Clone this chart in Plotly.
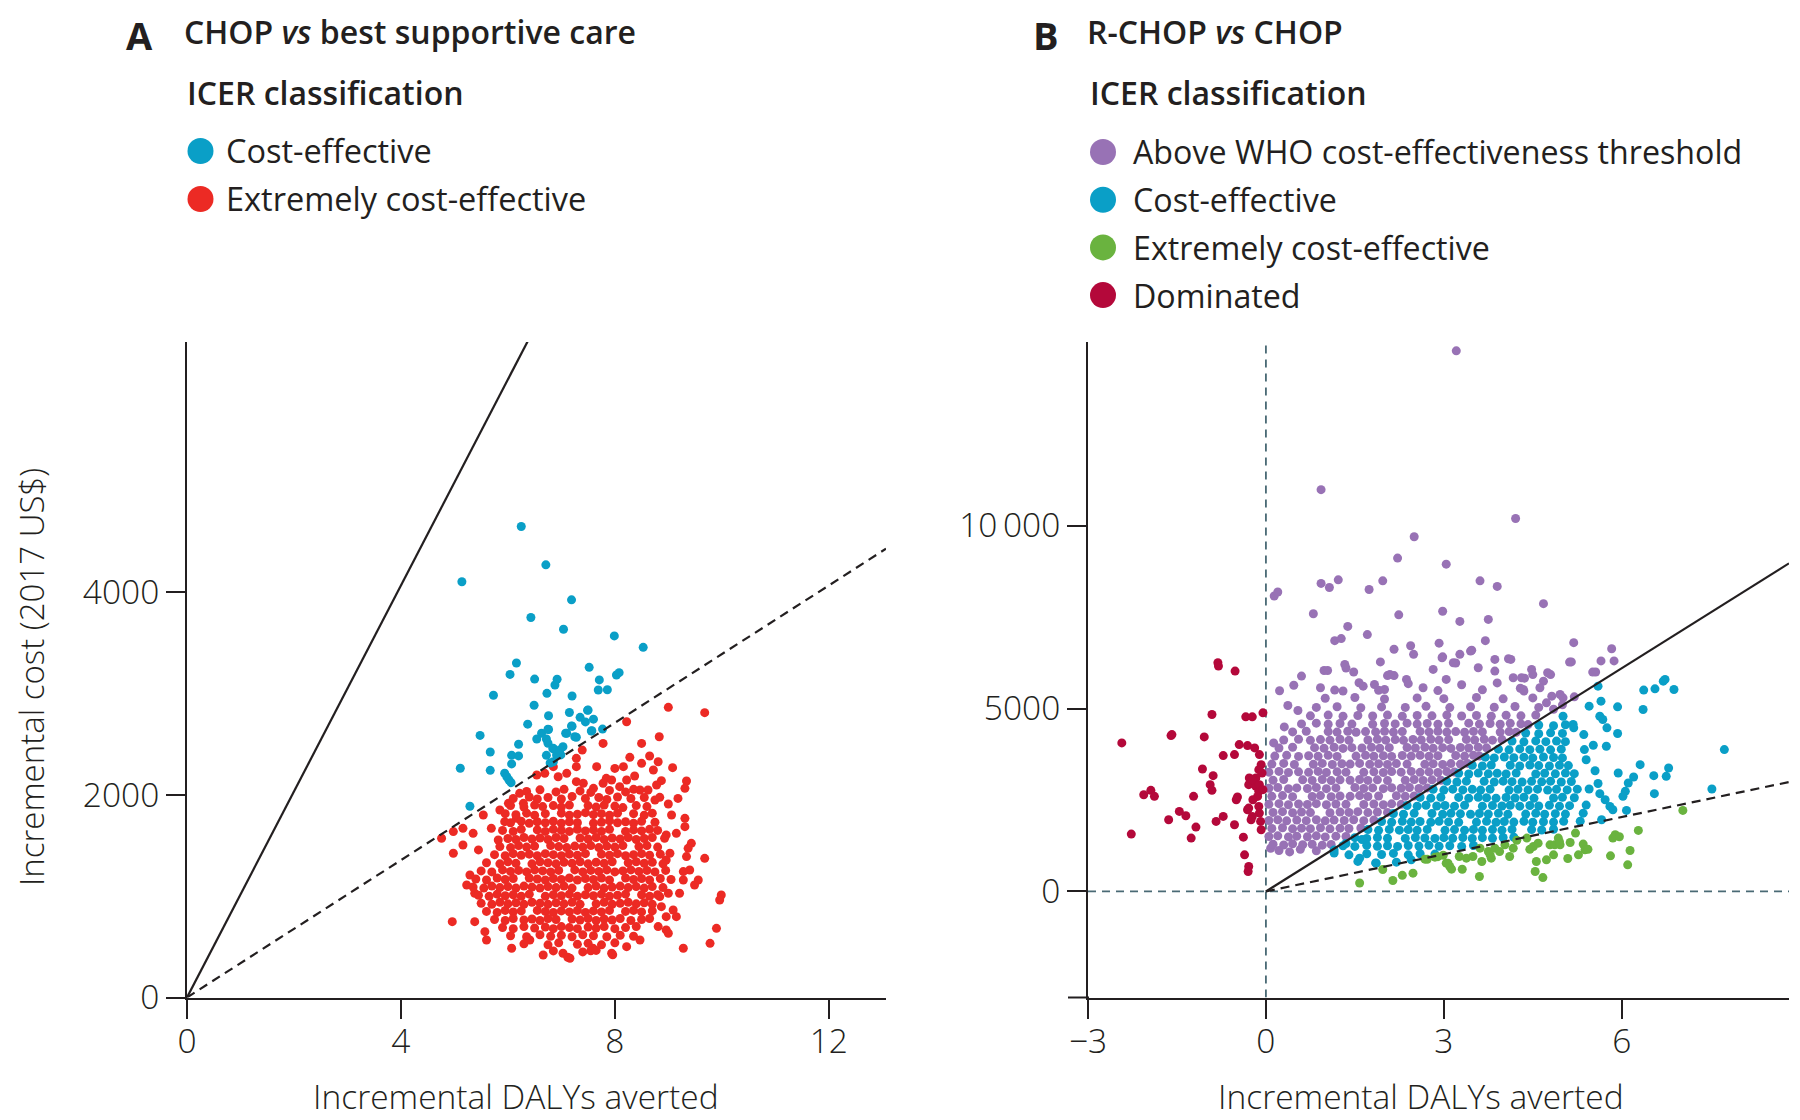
import plotly.graph_objects as go

# ---------------- data ----------------
gdp_per_capita = 339                 # slope of dashed line (1x GDP per capita)
who_threshold = 3 * gdp_per_capita   # slope of solid line (3x GDP per capita)

a_blue = [(6.25,4650),(5.14,4105),(6.71,4272),(7.19,3926),(6.43,3752),(7.04,3636),(7.99,3570),(8.53,3457),
          (6.16,3303),(6.04,3190),(6.50,3144),(6.92,3142),(6.88,3085),(7.52,3260),(7.71,3136),(7.69,3036),
          (7.86,3038),(8.03,3184),(8.08,3207),(5.73,2984),(6.73,3003),(7.20,2977),(6.49,2886),(6.76,2782),
          (7.15,2814),(7.49,2836),(7.35,2766),(7.45,2721),(7.60,2748),(6.37,2699),(6.76,2646),(7.20,2678),
          (7.57,2634),(5.48,2588),(6.63,2609),(6.54,2552),(6.72,2552),(6.75,2510),(7.08,2609),(7.28,2570),
          (7.77,2650),(6.20,2500),(6.84,2457),(7.03,2476),(6.94,2427),(6.99,2395),(6.91,2394),(5.67,2424),
          (6.07,2391),(6.20,2385),(6.72,2391),(6.07,2306),(6.79,2315),(5.11,2263),(5.67,2243),(5.94,2214),
          (5.98,2180),(6.02,2148),(6.06,2121),(5.29,1888),(6.75,2648),(6.85,2460),(6.97,2444),(6.85,2328),
          (7.19,2681),(7.10,2609),(7.25,2575),(7.50,2838),(7.56,2631)]

a_red_outer = [(9.0,2865),(9.68,2812),(8.22,2723),(8.83,2575),(8.5,2509),(7.78,2509),(7.39,2443),(7.28,2361),
               (7.28,2279),(7.66,2279),(8.28,2371),(8.65,2384),(8.81,2328),(8.72,2246),(9.08,2269),(8.5,2312),
               (8.16,2279),(8.0,2262),(7.84,2164),(8.37,2187),(8.87,2141),(9.34,2138),(9.31,2065),(9.18,1966),
               (8.84,1976),(8.75,1950),(9.0,1911),(9.06,1802),(9.31,1769),(9.31,1687),(9.15,1621),(8.96,1605),
               (8.93,1572),(9.43,1522),(9.37,1473),(9.03,1424),(8.96,1358),(9.34,1391),(9.68,1374),(9.4,1259),
               (9.28,1243),(9.56,1160),(9.49,1111),(9.28,1160),(9.21,1029),(9.0,1029),(8.84,996),(8.87,897),
               (9.09,864),(9.15,798),(8.96,798),(8.81,700),(8.96,667),(9.0,634),(9.99,1012),(9.96,963),
               (9.9,683),(9.78,535),(9.28,486),(8.47,568),(8.22,502),(7.94,437),(7.59,486),(7.16,387),
               (7.03,437),(6.66,420),(6.41,568),(6.07,486),(5.6,568),(5.57,650),(5.38,749),(4.96,749),
               (5.38,1029),(5.23,1111),(5.29,1210),(5.45,1457),(4.98,1424),(5.16,1506),(4.76,1572),(4.98,1638),
               (5.16,1670),(5.35,1621),(5.54,1802),(5.69,1670),(5.82,1555),(5.85,1851),(6.01,1917),(6.22,2016),
               (6.29,1917),(6.16,1769),(5.94,1736),(6.54,2197),(6.69,2213),(6.85,2279),(6.94,2180),(7.1,2213),
               (7.28,2131),(7.41,2115),(7.6,2065),(7.78,2115),(7.94,2147),(8.09,2082),(8.22,2147),(8.47,2049),
               (8.62,2049),(8.78,2098),(7.12,397),(7.96,422),(7.55,462)]

a_red_core = [
    (6.35,2035),(6.6,2050),(6.9,2030),(7.05,2055),(7.35,2040),(7.55,2025),(7.9,2045),(8.2,2030),(8.35,2055),
    (6.1,1965),(6.4,1980),(6.55,1960),(6.75,1975),(7.0,1960),(7.2,1985),(7.45,1965),(7.7,1975),(7.85,1955),(8.05,1980),(8.3,1965),(8.55,1975),
    (6.05,1895),(6.3,1880),(6.5,1900),(6.65,1885),(6.85,1895),(7.0,1880),(7.15,1900),(7.5,1895),(7.65,1880),(7.8,1900),(8.0,1890),(8.15,1875),(8.4,1895),(8.6,1885),
    (5.95,1815),(6.15,1805),(6.35,1820),(6.5,1800),(6.7,1815),(7.0,1820),(7.15,1800),(7.3,1810),(7.45,1825),(7.6,1805),(7.75,1815),(7.9,1800),(8.05,1820),(8.35,1815),(8.55,1800),(8.7,1820),
    (6.05,1725),(6.25,1740),(6.4,1720),(6.55,1735),(6.7,1725),(6.85,1740),(7.0,1720),(7.15,1735),(7.3,1725),(7.6,1720),(7.75,1730),(7.9,1745),(8.05,1725),(8.2,1735),(8.35,1720),(8.5,1740),(8.75,1730),
    (5.9,1650),(6.1,1640),(6.25,1660),(6.55,1655),(6.7,1640),(6.85,1660),(7.0,1650),(7.15,1640),(7.3,1660),(7.45,1645),(7.6,1655),(7.75,1640),(7.9,1660),(8.2,1640),(8.35,1655),(8.5,1645),(8.65,1660),(8.8,1650),
    (6.0,1570),(6.15,1560),(6.3,1580),(6.45,1565),(6.6,1575),(6.75,1560),(6.9,1580),(7.05,1570),(7.35,1575),(7.5,1565),(7.65,1580),(7.8,1560),(7.95,1575),(8.1,1565),(8.25,1580),(8.4,1560),(8.55,1570),(8.7,1580),
    (5.85,1490),(6.05,1480),(6.2,1500),(6.35,1485),(6.5,1495),(6.8,1500),(6.95,1490),(7.1,1480),(7.25,1495),(7.4,1485),(7.55,1500),(7.7,1480),(7.85,1495),(8.0,1485),(8.15,1500),(8.45,1490),(8.6,1500),(8.8,1485),
    (5.75,1410),(5.95,1400),(6.1,1420),(6.25,1405),(6.4,1415),(6.55,1400),(6.7,1420),(6.85,1410),(7.0,1400),(7.15,1415),(7.3,1405),(7.45,1420),(7.75,1415),(7.9,1405),(8.05,1420),(8.2,1400),(8.35,1410),(8.5,1420),(8.65,1405),(8.85,1415),
    (5.6,1330),(5.85,1320),(6.0,1340),(6.15,1325),(6.45,1320),(6.6,1340),(6.75,1330),(6.9,1320),(7.05,1335),(7.2,1325),(7.35,1340),(7.5,1320),(7.65,1335),(7.8,1325),(7.95,1340),(8.25,1330),(8.4,1340),(8.55,1325),(8.7,1335),(8.9,1320),
    (5.5,1250),(5.7,1240),(5.9,1260),(6.05,1245),(6.2,1255),(6.35,1240),(6.5,1260),(6.65,1250),(6.8,1240),(6.95,1255),(7.25,1260),(7.4,1240),(7.55,1255),(7.7,1245),(7.85,1260),(8.0,1240),(8.15,1250),(8.3,1260),(8.45,1245),(8.6,1255),(8.75,1240),(8.95,1255),
    (5.4,1170),(5.6,1160),(5.8,1180),(5.95,1165),(6.1,1175),(6.4,1180),(6.55,1170),(6.7,1160),(6.85,1175),(7.0,1165),(7.15,1180),(7.3,1160),(7.45,1175),(7.6,1165),(7.75,1180),(7.9,1160),(8.2,1180),(8.35,1165),(8.5,1175),(8.65,1160),(8.85,1175),(9.05,1165),
    (5.35,1090),(5.55,1080),(5.7,1100),(5.85,1085),(6.0,1095),(6.15,1080),(6.3,1100),(6.45,1090),(6.6,1080),(6.75,1095),(6.9,1085),(7.05,1100),(7.2,1080),(7.5,1085),(7.65,1100),(7.8,1080),(7.95,1090),(8.1,1100),(8.25,1085),(8.4,1095),(8.55,1080),(8.7,1095),(8.9,1085),
    (5.45,1010),(5.65,1000),(5.8,1020),(5.95,1005),(6.1,1015),(6.25,1000),(6.4,1020),(6.7,1000),(6.85,1015),(7.0,1005),(7.15,1020),(7.3,1000),(7.45,1015),(7.6,1005),(7.75,1020),(7.9,1000),(8.05,1010),(8.2,1020),(8.5,1015),(8.65,1000),(8.8,1015),
    (5.5,930),(5.7,920),(5.85,940),(6.0,925),(6.15,935),(6.3,920),(6.45,940),(6.6,930),(6.75,920),(6.9,935),(7.05,925),(7.2,940),(7.35,920),(7.65,925),(7.8,940),(7.95,920),(8.1,930),(8.25,940),(8.4,925),(8.55,935),(8.7,920),
    (5.6,850),(5.8,840),(5.95,860),(6.1,845),(6.25,855),(6.55,860),(6.7,850),(6.85,840),(7.0,855),(7.15,845),(7.3,860),(7.45,840),(7.6,855),(7.75,845),(7.9,860),(8.2,850),(8.35,860),(8.5,845),(8.7,855),
    (5.75,770),(5.95,760),(6.1,780),(6.3,765),(6.45,775),(6.6,760),(6.75,780),(6.9,770),(7.2,775),(7.35,765),(7.5,780),(7.65,760),(7.8,775),(7.95,765),(8.1,780),(8.3,760),(8.5,770),(8.65,780),
    (5.9,690),(6.1,680),(6.3,700),(6.5,685),(6.7,695),(6.85,680),(7.0,700),(7.15,690),(7.3,680),(7.5,695),(7.65,685),(7.8,700),(8.0,680),(8.2,690),(8.4,700),
    (6.05,610),(6.35,600),(6.6,620),(6.8,605),(7.0,615),(7.2,600),(7.4,620),(7.6,610),(7.85,600),(8.1,615),(8.35,605),
    (6.3,530),(6.75,520),(6.95,540),(7.3,525),(7.5,535),(7.75,520),(8.0,540),
    (6.85,460),(7.4,450),(7.65,465)]

b_dominated = [(-0.81,6252),(-0.80,6160),(-0.52,6023),(-0.91,4836),(-0.34,4772),(-0.23,4772),(-0.05,4882),(-2.43,4060),
               (-1.60,4261),(-1.585,4288),(-1.04,4224),(-0.45,4014),(-0.31,3987),(-0.19,3923),(-0.11,3740),(-0.72,3713),
               (-0.53,3740),(-1.07,3348),(-0.89,3165),(-0.94,2918),(-0.91,2763),(-0.28,3101),(-0.29,2918),(-0.17,2873),
               (-0.12,2736),(-2.06,2644),(-1.94,2763),(-1.88,2599),(-1.22,2599),(-0.48,2580),(-0.50,2507),(-1.46,2187),
               (-1.35,2069),(-0.31,2233),(-0.12,2324),(-0.11,2142),(-1.64,1959),(-0.84,1914),(-0.72,2050),(-0.23,2050),
               (-0.25,1959),(-1.18,1758),(-0.53,1822),(-0.09,1914),(-0.08,1685),(-2.27,1567),(-1.26,1457),(-0.38,1484),
               (-0.36,1000),(-0.29,681),(-0.30,544),(-0.08,3466),(-0.12,3329),(-0.065,3238),(-0.17,3101),(-0.23,3055),
               (-0.11,2918),(-0.05,2781),(-0.14,2598),(-0.22,2507),(-0.29,2279)]

b_above_outer = [(3.21,14778),(0.93,10983),(4.21,10194),(2.5,9695),(2.22,9113),(3.04,8947),(0.14,8075),(0.2,8185),
                 (0.93,8421),(1.07,8310),(1.22,8518),(1.74,8255),(1.97,8490),(3.61,8490),(3.9,8338),(4.68,7867),
                 (0.8,7590),(2.24,7562),(2.98,7659),(3.27,7382),(3.75,7437),(1.38,7244),(1.71,7022),(1.16,6856),
                 (1.27,6911),(2.92,6787),(3.7,6856),(2.16,6620),(2.44,6717),(2.98,6413),(3.27,6482),(3.47,6593),
                 (5.19,6800),(5.83,6634),(2.49,6482),(3.86,6343),(4.13,6343),(1.93,6274),(3.2,6246),(5.15,6274),
                 (5.65,6302),(5.87,6302),(1.35,6108),(1.48,5997),(0.98,6039),(1.04,6039),(2.05,5900),(2.16,5900),
                 (0.6,5886),(0.47,5637),(0.23,5485),(4.8,5928),(4.5,5928),(5.56,5997),(4.29,5554),(4.36,5831),
                 (3.45,6571),(2.97,6389),(3.16,6252),(4.09,6361),(5.12,6270),(3.58,6115),(3.86,6023),(4.48,6069),
                 (4.75,5978),(5.51,5996),(2.82,6069),(1.33,6206),(2.09,5932),(2.37,5795),(3.04,5795),(0.92,5567),
                 (1.16,5503),(1.57,5704),(1.64,5612),(1.83,5658),(2.65,5567),(0.37,5083),(0.54,4946),(0.31,4498),
                 (0.13,4060),(4.68,5749),(4.62,5567),(4.82,5338),(4.96,5384),(5.01,5293),(4.73,5156),(4.17,5841),
                 (4.31,5841),(4.34,5521),(2.4,5680),(3.3,5650),(3.9,5700),(1.9,5500),
                 (0.22,1120),(0.4,1080),(0.58,1150),(0.85,1110),(0.08,1180)]

b_above_core = [
    (0.12,1290),(0.3,1270),(0.45,1300),(0.62,1275),(0.78,1290),(0.95,1265),(1.1,1285),
    (0.05,1500),(0.2,1520),(0.38,1490),(0.52,1510),(0.7,1495),(0.85,1520),(1.0,1490),(1.18,1510),(1.35,1500),
    (0.1,1720),(0.28,1740),(0.45,1710),(0.6,1730),(0.75,1715),(0.92,1740),(1.08,1710),(1.25,1730),(1.4,1720),(1.6,1735),
    (0.05,1940),(0.2,1960),(0.35,1930),(0.52,1950),(0.68,1935),(0.85,1960),(1.0,1930),(1.15,1950),(1.32,1940),(1.48,1960),(1.65,1935),(1.82,1950),
    (0.12,2160),(0.28,2180),(0.45,2150),(0.6,2170),(0.75,2155),(1.08,2150),(1.25,2170),(1.4,2160),(1.55,2180),(1.72,2155),(1.88,2170),(2.05,2160),
    (0.05,2380),(0.22,2400),(0.38,2370),(0.55,2390),(0.7,2375),(0.85,2400),(1.02,2370),(1.18,2390),(1.35,2380),(1.65,2375),(1.82,2390),(1.98,2370),(2.12,2395),(2.28,2380),
    (0.1,2600),(0.28,2620),(0.45,2590),(0.78,2595),(0.92,2620),(1.1,2590),(1.25,2610),(1.42,2600),(1.58,2620),(1.72,2595),(1.9,2610),(2.2,2615),(2.35,2600),(2.5,2610),
    (0.05,2820),(0.2,2840),(0.38,2810),(0.52,2830),(0.7,2815),(0.85,2840),(1.02,2810),(1.18,2830),(1.5,2840),(1.65,2815),(1.8,2830),(1.98,2810),(2.12,2835),(2.28,2820),(2.42,2840),(2.58,2815),(2.72,2830),
    (0.12,3040),(0.3,3060),(0.62,3050),(0.78,3035),(0.95,3060),(1.1,3030),(1.25,3050),(1.42,3040),(1.58,3060),(1.72,3035),(1.88,3050),(2.05,3030),(2.35,3040),(2.5,3060),(2.65,3035),(2.8,3050),(2.95,3040),
    (0.05,3260),(0.22,3280),(0.38,3250),(0.55,3270),(0.72,3255),(0.88,3280),(1.02,3250),(1.2,3270),(1.35,3260),(1.65,3255),(1.82,3270),(1.98,3250),(2.12,3275),(2.28,3260),(2.45,3280),(2.6,3255),(2.75,3270),(2.9,3250),(3.05,3275),(3.18,3265),
    (0.1,3480),(0.3,3500),(0.48,3470),(0.8,3475),(0.95,3500),(1.12,3470),(1.28,3490),(1.42,3480),(1.58,3500),(1.75,3475),(1.9,3490),(2.05,3470),(2.2,3495),(2.38,3480),(2.68,3475),(2.82,3490),(2.98,3470),(3.12,3495),(3.28,3480),(3.4,3500),
    (0.15,3700),(0.35,3720),(0.55,3690),(0.72,3710),(0.88,3695),(1.05,3720),(1.2,3690),(1.52,3700),(1.68,3720),(1.82,3695),(1.98,3710),(2.12,3690),(2.3,3715),(2.45,3700),(2.6,3720),(2.75,3695),(2.9,3710),(3.2,3715),(3.35,3700),(3.5,3720),(3.6,3700),
    (0.22,3920),(0.45,3940),(0.82,3930),(0.98,3915),(1.15,3940),(1.3,3910),(1.45,3930),(1.62,3920),(1.78,3940),(1.92,3915),(2.08,3930),(2.38,3935),(2.52,3920),(2.68,3940),(2.82,3915),(2.98,3930),(3.12,3910),(3.28,3935),(3.42,3920),(3.58,3940),(3.72,3925),
    (0.3,4140),(0.55,4160),(0.75,4130),(0.92,4150),(1.08,4135),(1.25,4160),(1.4,4130),(1.72,4140),(1.88,4160),(2.02,4135),(2.18,4150),(2.32,4130),(2.48,4155),(2.62,4140),(2.78,4160),(2.92,4135),(3.08,4150),(3.38,4155),(3.52,4140),(3.68,4160),(3.82,4135),(3.98,4150),
    (0.45,4360),(0.68,4380),(1.05,4370),(1.2,4355),(1.38,4380),(1.52,4350),(1.68,4370),(1.85,4360),(2.0,4380),(2.15,4355),(2.3,4370),(2.6,4375),(2.75,4360),(2.9,4380),(3.05,4355),(3.2,4370),(3.35,4350),(3.5,4375),(3.65,4360),(3.95,4355),(4.1,4370),(4.22,4350),
    (0.6,4580),(0.85,4600),(1.05,4570),(1.25,4590),(1.45,4575),(1.8,4570),(2.0,4590),(2.18,4580),(2.38,4600),(2.55,4575),(2.72,4590),(2.9,4570),(3.08,4595),(3.42,4600),(3.6,4575),(3.78,4590),(3.95,4570),(4.12,4595),(4.3,4580),(4.42,4560),
    (0.75,4800),(1.05,4820),(1.3,4790),(1.55,4810),(1.8,4795),(2.05,4820),(2.3,4790),(2.55,4810),(2.8,4800),(3.05,4820),(3.3,4795),(3.55,4810),(3.8,4790),(4.05,4815),(4.3,4800),(4.55,4820),
    (0.85,5030),(1.2,5050),(1.6,5020),(1.95,5045),(2.35,5030),(2.7,5060),(3.1,5025),(3.45,5050),(3.85,5035),(4.2,5055),(4.6,5030),(4.85,4980),
    (1.0,5280),(1.5,5300),(2.0,5260),(2.55,5290),(3.0,5270),(3.55,5300),(4.0,5265),(4.5,5290),(5.0,5100),
    (1.3,5480),(2.0,5520),(2.9,5490),(3.65,5510),(4.35,5480),(5.2,5320)]

b_ce_core = [
    (1.55,820),(1.85,780),(2.2,800),
    (1.15,1050),(1.4,1000),(1.7,1030),(1.95,1010),(2.15,1040),(2.4,1000),(2.6,1030),(2.85,1020),
    (1.3,1250),(1.5,1230),(1.7,1260),(1.88,1235),(2.05,1250),(2.22,1230),(2.4,1255),(2.58,1240),(2.75,1260),(2.92,1235),(3.1,1250),(3.3,1230),(3.5,1255),
    (1.5,1470),(1.7,1450),(1.88,1475),(2.05,1455),(2.35,1450),(2.52,1475),(2.68,1460),(2.85,1450),(3.0,1470),(3.15,1455),(3.32,1475),(3.48,1450),(3.65,1470),(3.82,1455),(4.0,1475),(4.18,1480),
    (1.72,1690),(1.9,1670),(2.08,1695),(2.25,1675),(2.4,1690),(2.55,1670),(2.72,1695),(3.02,1670),(3.18,1690),(3.35,1675),(3.5,1695),(3.65,1670),(3.82,1690),(3.98,1675),(4.15,1695),(4.48,1690),(4.65,1680),(4.85,1700),
    (1.95,1910),(2.12,1890),(2.3,1915),(2.45,1895),(2.6,1910),(2.78,1890),(2.92,1915),(3.08,1900),(3.25,1890),(3.55,1895),(3.72,1915),(3.88,1890),(4.02,1910),(4.18,1895),(4.35,1915),(4.5,1890),(4.68,1905),(4.85,1895),(5.02,1915),(5.3,1920),
    (2.15,2130),(2.32,2110),(2.5,2135),(2.8,2130),(2.98,2110),(3.12,2135),(3.28,2120),(3.45,2110),(3.6,2130),(3.75,2115),(3.92,2135),(4.08,2110),(4.38,2115),(4.55,2135),(4.7,2110),(4.88,2125),(5.05,2115),(5.35,2140),
    (2.38,2350),(2.55,2330),(2.7,2355),(2.88,2335),(3.02,2350),(3.18,2330),(3.35,2355),(3.65,2330),(3.82,2350),(3.98,2335),(4.12,2355),(4.28,2330),(4.45,2350),(4.6,2335),(4.78,2355),(4.95,2330),(5.12,2345),(5.4,2360),
    (2.6,2570),(2.78,2550),(2.95,2575),(3.25,2570),(3.42,2550),(3.58,2575),(3.72,2560),(3.88,2550),(4.05,2570),(4.2,2555),(4.35,2575),(4.52,2550),(4.85,2555),(5.0,2575),(5.2,2560),
    (2.82,2790),(3.0,2770),(3.15,2795),(3.32,2775),(3.48,2790),(3.62,2770),(3.78,2795),(4.1,2770),(4.25,2790),(4.42,2775),(4.58,2795),(4.75,2770),(4.9,2790),(5.08,2775),(5.25,2795),
    (3.05,3010),(3.22,2990),(3.38,3015),(3.68,3010),(3.85,2990),(4.0,3015),(4.15,3000),(4.32,2990),(4.48,3010),(4.65,2995),(4.8,3015),(4.98,2990),(5.15,3005),
    (3.25,3230),(3.42,3210),(3.58,3235),(3.75,3215),(3.9,3230),(4.05,3210),(4.22,3235),(4.55,3210),(4.7,3230),(4.88,3215),(5.05,3235),(5.2,3220),
    (3.48,3450),(3.65,3430),(3.8,3455),(4.12,3450),(4.28,3430),(4.45,3455),(4.6,3440),(4.78,3430),(4.95,3450),(5.1,3440),
    (3.7,3670),(3.85,3650),(4.02,3675),(4.18,3655),(4.35,3670),(4.5,3650),(4.68,3675),(4.85,3660),(5.0,3650),
    (3.92,3890),(4.1,3870),(4.28,3895),(4.45,3875),(4.62,3890),(4.8,3870),(4.98,3890),
    (4.15,4110),(4.35,4090),(4.55,4115),(4.72,4095),(4.9,4110),(5.05,4095),
    (4.38,4330),(4.6,4310),(4.8,4335),(5.0,4320),
    (4.6,4550),(4.85,4530),(5.05,4555)]

b_ce_outer = [(6.70,5749),(6.73,5795),(6.56,5539),(6.37,5503),(6.88,5521),(6.36,4973),(7.73,3877),(5.93,5046),
              (5.65,5201),(5.60,5612),(5.45,5065),(5.01,4790),(5.18,4562),(5.19,4471),(5.36,4288),(5.63,4790),
              (5.68,4699),(5.75,4471),(5.93,4316),(5.52,3996),(5.37,3877),(5.74,3968),(5.94,3238),(6.31,3466),
              (6.20,3128),(6.54,3165),(6.79,3375),(6.75,3147),(6.11,2964),(6.06,2736),(6.02,2599),(6.55,2672),
              (7.52,2800),(6.08,2215),(5.85,2233),(5.63,2672),(5.72,2507),(5.80,2324),(5.66,1959),(1.58,909),
              (1.86,772),(2.45,863),(1.15,1130),(1.35,1310),(1.62,1420),(5.4,3600),(5.55,3300),(5.6,2950),(5.45,2800)]

b_extreme = [(1.58,230),(2.14,300),(2.3,440),(2.48,500),(1.97,600),(2.72,880),(2.85,936),(2.9,950),(2.99,990),
             (3.04,772),(3.1,681),(3.13,608),(3.26,955),(3.31,607),(3.6,407),(3.38,909),(3.49,955),(3.61,1183),
             (3.64,818),(3.75,1092),(3.8,909),(3.78,1000),(3.86,1183),(3.94,1092),(4.03,1274),(4.11,955),(4.17,1183),
             (4.23,1400),(4.4,1457),(4.51,1229),(4.59,1320),(4.56,818),(4.54,544),(4.67,379),(4.73,863),(4.79,1274),
             (4.85,1000),(4.87,1274),(4.93,1457),(4.96,1274),(5.13,1338),(5.22,1594),(5.27,1000),(5.35,1293),
             (5.38,1137),(5.81,973),(5.85,1457),(5.89,1548),(6.1,726),(6.14,1119),(6.28,1667),(7.03,2215),
             (2.68,881),(3.07,772),(4.45,1150),(4.95,1360),(5.09,900),(5.43,1150),(5.96,1496)]

a_xticks = [0, 4, 8, 12]
a_yticks = [0, 2000, 4000]
b_xticks = [-3, 0, 3, 6]
b_xticktext = ["\u22123", "0", "3", "6"]
b_yticks = [0, 5000, 10000]
b_yticktext = ["0", "5000", "10\u2009000"]

# ---------------- style ----------------
OFF = 8                      # page body margin of the html page
W, H = 1800 - OFF, 1120 - OFF
FONT = "Open Sans"
INK = "#231f20"
C_BLUE = "#0a9fc7"
C_RED = "#ec2a24"
C_PURPLE = "#9872b5"
C_GREEN = "#6ab33f"
C_CRIMSON = "#b4083a"
C_SLATE = "#4a6a75"
MS = 9

def px(x):
    return (x - OFF) / W

def py(y):
    return 1 - (y - OFF) / H

a_xrange = [0, 13.07]
a_yrange = [0, 6472]
b_xrange = [-3, 8.82]
b_yrange = [-2900, 15020]

def xs(pts):
    return [p[0] for p in pts]

def ys(pts):
    return [p[1] for p in pts]

fig = go.Figure()

# Panel A points
a_red = a_red_outer + a_red_core
fig.add_trace(go.Scatter(x=xs(a_red), y=ys(a_red), mode="markers", xaxis="x", yaxis="y",
                         marker=dict(size=MS, color=C_RED, line=dict(width=0)), showlegend=False))
fig.add_trace(go.Scatter(x=xs(a_blue), y=ys(a_blue), mode="markers", xaxis="x", yaxis="y",
                         marker=dict(size=MS, color=C_BLUE, line=dict(width=0)), showlegend=False))
# Panel A threshold lines
fig.add_trace(go.Scatter(x=[0, a_xrange[1]], y=[0, who_threshold * a_xrange[1]], mode="lines",
                         xaxis="x", yaxis="y", line=dict(color=INK, width=2.2), showlegend=False))
fig.add_trace(go.Scatter(x=[0, a_xrange[1]], y=[0, gdp_per_capita * a_xrange[1]], mode="lines",
                         xaxis="x", yaxis="y", line=dict(color=INK, width=2.2, dash="9px,6px"), showlegend=False))

# Panel B reference (zero) lines
fig.add_trace(go.Scatter(x=[0, 0], y=b_yrange, mode="lines", xaxis="x2", yaxis="y2",
                         line=dict(color=C_SLATE, width=1.8, dash="8px,6px"), showlegend=False))
fig.add_trace(go.Scatter(x=b_xrange, y=[0, 0], mode="lines", xaxis="x2", yaxis="y2",
                         line=dict(color=C_SLATE, width=1.8, dash="8px,6px"), showlegend=False))
# Panel B points
b_above = b_above_outer + b_above_core
b_ce = b_ce_core + b_ce_outer
for pts, col in [(b_above, C_PURPLE), (b_ce, C_BLUE), (b_extreme, C_GREEN), (b_dominated, C_CRIMSON)]:
    fig.add_trace(go.Scatter(x=xs(pts), y=ys(pts), mode="markers", xaxis="x2", yaxis="y2",
                             marker=dict(size=MS, color=col, line=dict(width=0)), showlegend=False))
# Panel B threshold lines
fig.add_trace(go.Scatter(x=[0, b_xrange[1]], y=[0, who_threshold * b_xrange[1]], mode="lines",
                         xaxis="x2", yaxis="y2", line=dict(color=INK, width=2.2), showlegend=False))
fig.add_trace(go.Scatter(x=[0, b_xrange[1]], y=[0, gdp_per_capita * b_xrange[1]], mode="lines",
                         xaxis="x2", yaxis="y2", line=dict(color=INK, width=2.2, dash="9px,6px"), showlegend=False))

axis_common = dict(showgrid=False, zeroline=False, showline=True, linecolor=INK, linewidth=2,
                   ticks="outside", ticklen=19, tickwidth=2, tickcolor=INK, automargin=False,
                   tickfont=dict(family=FONT, size=33.5, color=INK, weight=300))

X_TOP = 342
X_BOT = 997.5
fig.update_layout(
    width=W, height=H, margin=dict(l=0, r=0, t=0, b=0, pad=0, autoexpand=False),
    paper_bgcolor="white", plot_bgcolor="white", showlegend=False,
    font=dict(family=FONT, color=INK),
    xaxis=dict(domain=[px(187), px(886)], range=a_xrange, tickvals=a_xticks, anchor="y",
               ticklabelstandoff=-6, **axis_common),
    yaxis=dict(domain=[py(X_BOT), py(X_TOP)], range=a_yrange, tickvals=a_yticks, anchor="x",
               ticklabelstandoff=0, **axis_common),
    xaxis2=dict(domain=[px(1088), px(1789)], range=b_xrange, tickvals=b_xticks, ticktext=b_xticktext,
                anchor="y2", ticklabelstandoff=-6, **axis_common),
    yaxis2=dict(domain=[py(X_BOT), py(X_TOP)], range=b_yrange, tickvals=b_yticks, ticktext=b_yticktext,
                anchor="x2", ticklabelstandoff=0, **axis_common),
)

# x-axis overhang in panel B
fig.add_shape(type="line", xref="paper", yref="paper", x0=px(1068), x1=px(1089), y0=py(X_BOT), y1=py(X_BOT),
              line=dict(color=INK, width=2))

def text(x, y, s, size=30, weight=400, anchor="left", angle=0, pad=1):
    fig.add_annotation(x=px(x), y=py(y), xref="paper", yref="paper", text=s, showarrow=False,
                       xanchor=anchor, yanchor="middle", textangle=angle, borderpad=pad,
                       font=dict(family=FONT, size=size, color=INK, weight=weight))

def dot(x, y, col):
    fig.add_shape(type="circle", xref="paper", yref="paper", xsizemode="pixel", ysizemode="pixel",
                  xanchor=px(x), yanchor=py(y), x0=-13, x1=13, y0=-13, y1=13,
                  fillcolor=col, line=dict(width=0))

# Panel A header + legend
text(125, 35, "A", size=38, weight=700, pad=0)
text(182, 32, "CHOP <i>vs</i> best supportive care", size=32, weight=600)
text(185, 93, "ICER classification", size=32, weight=600)
legend_a = [("Cost-effective", C_BLUE), ("Extremely cost-effective", C_RED)]
for i, (lab, col) in enumerate(legend_a):
    yc = 151 + i * 48
    dot(200.5, yc, col)
    text(224, yc, lab, size=32.5)

# Panel B header + legend
text(1032, 35, "B", size=38, weight=700, pad=0)
text(1085, 32, "R-CHOP <i>vs</i> CHOP", size=32, weight=600)
text(1088, 93, "ICER classification", size=32, weight=600)
legend_b = [("Above WHO cost-effectiveness threshold", C_PURPLE), ("Cost-effective", C_BLUE),
            ("Extremely cost-effective", C_GREEN), ("Dominated", C_CRIMSON)]
for i, (lab, col) in enumerate(legend_b):
    yc = 152 + i * 47.7
    dot(1103, yc, col)
    text(1131, yc, lab, size=32.2)

# Axis titles
text(31, 677, "Incremental cost (2017 US$)", size=33, weight=300, anchor="center", angle=-90, pad=0)
text(516, 1096, "Incremental DALYs averted", size=33.5, weight=300, anchor="center")
text(1421, 1096, "Incremental DALYs averted", size=33.5, weight=300, anchor="center")

fig.write_html("out.html")
